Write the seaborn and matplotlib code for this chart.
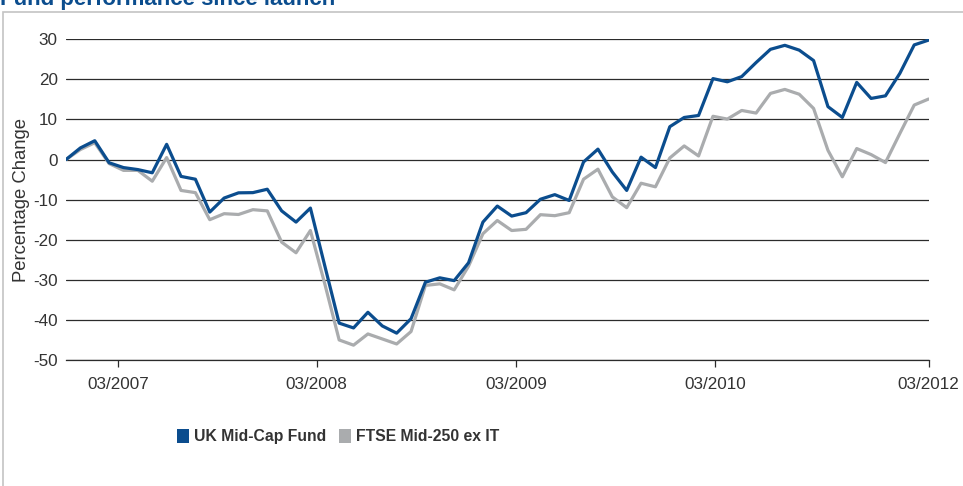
import numpy as np
import pandas as pd
import matplotlib.pyplot as plt
from matplotlib.patches import Patch, Rectangle
import seaborn as sns

# monthly percentage change since launch
fund = [0, 2.9, 4.7, -0.8, -2.0, -2.5, -3.3, 3.8, -4.2, -4.9,
        -13.1, -9.6, -8.3, -8.25, -7.4, -12.8, -15.6, -12.1, -26.5, -40.8,
        -42.0, -38.1, -41.5, -43.3, -39.7, -30.6, -29.5, -30.2, -25.75, -15.6,
        -11.6, -14.1, -13.25, -9.9, -8.75, -10.2, -0.6, 2.6, -3.1, -7.7,
        0.6, -2.0, 8.2, 10.5, 11.0, 20.2, 19.4, 20.7, 24.2, 27.5,
        28.5, 27.3, 24.7, 13.2, 10.5, 19.25, 15.25, 15.9, 21.5, 28.6, 29.8]
index = [0, 2.5, 4.2, -1.0, -2.7, -2.7, -5.4, 0.5, -7.7, -8.25,
         -15.0, -13.5, -13.7, -12.5, -12.8, -20.6, -23.25, -17.7, -31.0, -45.0,
         -46.3, -43.5, -44.75, -46.0, -42.9, -31.4, -31.0, -32.5, -26.6, -18.5,
         -15.2, -17.7, -17.4, -13.75, -14.0, -13.25, -4.9, -2.4, -9.3, -12.0,
         -5.9, -6.8, 0.4, 3.4, 0.9, 10.8, 10.1, 12.25, 11.6, 16.5,
         17.5, 16.3, 12.75, 2.3, -4.3, 2.75, 1.25, -0.75, 6.5, 13.6, 15.1]
series_names = ["UK Mid-Cap Fund", "FTSE Mid-250 ex IT"]
tick_labels = ["03/2007", "03/2008", "03/2009", "03/2010", "03/2012"]
tick_pos = [3.64, 17.44, 31.3, 45.16, 60]

colors = {"UK Mid-Cap Fund": "#0b4d8e", "FTSE Mid-250 ex IT": "#aaacae"}
text_col = "#333333"

df = pd.concat([
    pd.DataFrame({"month": np.arange(len(fund)), "change": fund, "series": series_names[0]}),
    pd.DataFrame({"month": np.arange(len(index)), "change": index, "series": series_names[1]}),
])

sns.set_style("white")
plt.rcParams['font.family'] = ['Liberation Sans', 'DejaVu Sans']
plt.rcParams['axes.unicode_minus'] = False

fig = plt.figure(figsize=(9.63, 4.86), dpi=100, facecolor="white")
ax = fig.add_axes([66 / 963, 1 - 360 / 486, (928.6 - 66) / 963, (360 - 39.3) / 486])

sns.lineplot(data=df, x="month", y="change", hue="series", hue_order=series_names[::-1],
             palette=colors, linewidth=2.3, legend=False, ax=ax)

ax.set_xlim(0, 60)
ax.set_ylim(-50, 30)
ax.set_yticks(range(-50, 31, 10))
ax.yaxis.grid(True, color="#2b2b2b", linewidth=0.9)
ax.set_axisbelow(True)
for s in ["top", "right", "left"]:
    ax.spines[s].set_visible(False)
ax.spines["bottom"].set_color("#2b2b2b")
ax.spines["bottom"].set_linewidth(0.9)

ax.set_xticks(tick_pos)
ax.set_xticklabels(tick_labels)
ax.tick_params(axis="x", bottom=True, length=5, width=0.9, color="#2b2b2b",
               pad=7, labelsize=12.3, labelcolor=text_col)
ax.tick_params(axis="y", left=False, length=0, pad=6, labelsize=12.3, labelcolor=text_col)
ax.set_xlabel("")
ax.set_ylabel("Percentage Change", fontsize=13.3, color=text_col, labelpad=2)

handles = [Patch(facecolor=colors[n], edgecolor="none") for n in series_names]
fig.legend(handles, series_names, loc="center", bbox_to_anchor=(0.351, 0.101), ncol=2,
           frameon=False, handlelength=0.8, handleheight=0.9, handletextpad=0.3,
           columnspacing=0.8, prop={"weight": "bold", "size": 11.3}, labelcolor=text_col)

# outer panel border and the clipped heading
fig.patches.append(Rectangle((3 / 963, -0.1), 1.2, 1.1 - 12 / 486, transform=fig.transFigure,
                             fill=False, edgecolor="#c4c4c4", linewidth=1.2))
fig.text(0.0, 1 - 5 / 486, "Fund performance since launch", color="#0b4d8e",
         fontsize=16, fontweight="bold", va="baseline", ha="left")

fig.savefig("out.png", dpi=100, facecolor="white")
